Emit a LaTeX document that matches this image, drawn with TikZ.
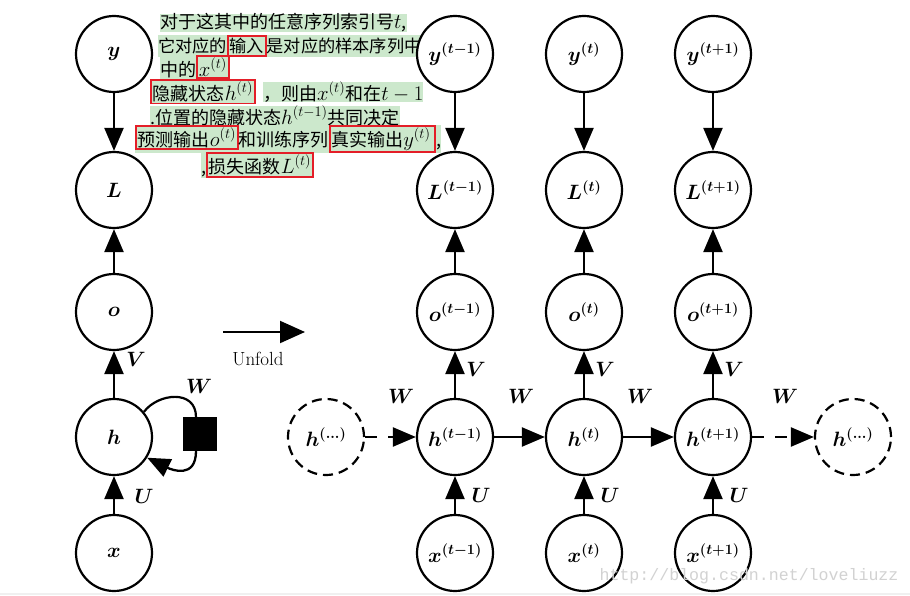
\documentclass[tikz,border=0pt]{standalone}
\usepackage{fontspec}
\usepackage{bm}
\usetikzlibrary{arrows.meta}
\newfontfamily\cjk{Noto Sans CJK SC}
\newfontfamily\wmfont{Liberation Mono}
\definecolor{annog}{RGB}{204,232,204}
\definecolor{boxred}{RGB}{228,30,40}
\newcommand\redbox[1]{\begingroup\setlength{\fboxrule}{1.8pt}\setlength{\fboxsep}{0.8pt}\fcolorbox{boxred}{annog}{#1}\endgroup}
\newcommand\am[1]{{\fontsize{22}{24}\selectfont$#1$}}
\begin{document}
\begin{tikzpicture}[x=1pt,y=-1pt,
  circ/.style={circle,draw,line width=2.2pt,minimum size=76pt,inner sep=0pt,fill=white,font=\fontsize{21}{24}\selectfont},
  dcirc/.style={circ,dash pattern=on 10pt off 6pt},
  conn/.style={line width=2.3pt,-{Triangle[length=23pt,width=19pt]}},
  lab/.style={inner sep=0pt,font=\fontsize{22}{24}\selectfont},
  anno/.style={anchor=west,fill=annog,inner sep=0pt,font=\cjk\fontsize{18}{20}\selectfont}]
\useasboundingbox (0,0) rectangle (910,596);
\fill[white] (0,0) rectangle (910,596);
\coordinate (bl) at (0,594);
\coordinate (br) at (910,594);
\draw[gray!12,line width=1.5pt] (bl) -- (br);

% annotation
\node[anno] (a1) at (160,23) {对于这其中的任意序列索引号\am{t},};
\node[anno,font=\cjk\fontsize{17.2}{20}\selectfont] (a2) at (158,46) {它对应的\redbox{输入}是对应的样本序列中};
\node[anno] (a3) at (160,67) {中的\redbox{\am{x^{(t)}}}};
\node[anno,fill=none] (a4a) at (150,92) {\redbox{隐藏状态\am{h^{(t)}}}};
\node[anno] (a4b) at (263,92) {，则由\am{x^{(t)}}和在\am{t-1}};
\node[anno] (a5) at (150,116) {.位置的隐藏状态\am{h^{(t-1)}}共同决定};
\node[anno] (a6) at (135,139) {\redbox{预测输出\am{o^{(t)}}}和训练序列\redbox{真实输出\am{y^{(t)}}\,},};
\node[anno] (a7) at (201,165) {,\redbox{损失函数\am{L^{(t)}}}};

% left folded column
\node[circ] (y) at (114,54) {$\bm{y}$};
\node[circ] (L) at (114,190) {$\bm{L}$};
\node[circ] (o) at (114,312) {$\bm{o}$};
\node[circ] (h) at (114,437) {$\bm{h}$};
\node[circ] (x) at (114,553) {$\bm{x}$};
\node[draw,fill=black,minimum size=33pt,inner sep=0pt,line width=1pt] (sq) at (200,434) {};
\draw[conn] (y) -- (L);
\draw[conn] (o) -- (L);
\draw[conn] (h) -- (o);
\draw[conn] (x) -- (h);
\draw[line width=2.2pt] (h.40) .. controls (158,393) and (196,389) .. ([xshift=-4pt]sq.north);
\draw[conn] ([xshift=-4pt]sq.south) .. controls (196,479) and (172,470) .. (h.-32);
\node[lab] (lV) at (136,359) {$\bm{V}$};
\node[lab] (lU) at (144,496) {$\bm{U}$};
\node[lab] (lW) at (199,386) {$\bm{W}$};

% unfold
\coordinate (ua) at (223,332);
\coordinate (ub) at (305,332);
\draw[line width=2pt,-{Triangle[length=25pt,width=22pt]}] (ua) -- (ub);
\node[inner sep=0pt,font=\fontsize{19}{22}\selectfont] (unf) at (258,359) {Unfold};

% unfolded columns
\foreach \n/\cx/\s in {1/455/t-1, 2/584/t, 3/713/t+1} {
  \node[circ] (y\n) at (\cx,54) {$\bm{y^{(\s)}}$};
  \node[circ] (L\n) at (\cx,190) {$\bm{L^{(\s)}}$};
  \node[circ] (o\n) at (\cx,312) {$\bm{o^{(\s)}}$};
  \node[circ] (h\n) at (\cx,437) {$\bm{h^{(\s)}}$};
  \node[circ] (x\n) at (\cx,553) {$\bm{x^{(\s)}}$};
  \draw[conn] (y\n) -- (L\n);
  \draw[conn] (o\n) -- (L\n);
  \draw[conn] (h\n) -- (o\n);
  \draw[conn] (x\n) -- (h\n);
  \node[lab] (V\n) at (\cx+21,369) {$\bm{V}$};
  \node[lab] (U\n) at (\cx+26,495) {$\bm{U}$};
}
\node[dcirc] (hm) at (326,437) {$\bm{h^{(\ldots)}}$};
\node[dcirc] (hp) at (853,437) {$\bm{h^{(\ldots)}}$};
\draw[conn,dash pattern=on 12pt off 11pt] (hm) -- (h1);
\draw[conn] (h1) -- (h2);
\draw[conn] (h2) -- (h3);
\draw[conn,dash pattern=on 12pt off 11pt] (h3) -- (hp);
\node[lab] (W1) at (401,396) {$\bm{W}$};
\node[lab] (W2) at (521,396) {$\bm{W}$};
\node[lab] (W3) at (640,396) {$\bm{W}$};
\node[lab] (W4) at (785,396) {$\bm{W}$};

% watermark
\node[inner sep=0pt,text=gray!35,font=\wmfont\fontsize{16.6}{18}\selectfont] (wm) at (749,576) {http://blog.csdn.net/loveliuzz};
\end{tikzpicture}
\end{document}
